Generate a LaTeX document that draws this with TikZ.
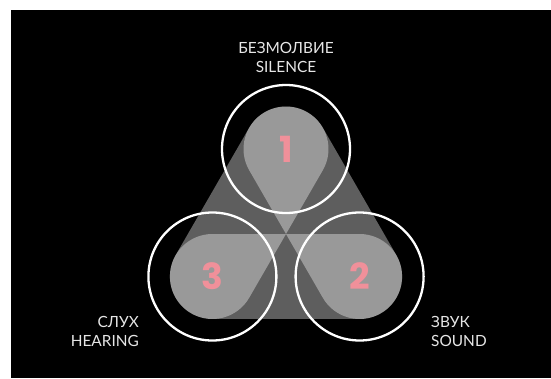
\documentclass[tikz,border=0pt]{standalone}
\usepackage{fontspec}
\setmainfont{Lato}
\newfontfamily\numfont{Poppins}
\usetikzlibrary{positioning,calc}
\definecolor{board}   {HTML}{000000}
\definecolor{margin}  {HTML}{FFFFFF}
\definecolor{labelink}{HTML}{E6E6E6}
\definecolor{numink}  {HTML}{F0909A}
\tikzset{
  band/.style={draw=white,draw opacity=0.37,line width=85pt,line cap=round},
  ring/.style={draw=white,line width=2.3pt},
  numlabel/.style={text=numink,font=\numfont\bfseries\fontsize{36}{36}\selectfont,inner sep=0pt},
  caption/.style={text=labelink,font=\fontsize{15.4}{19}\selectfont,inner sep=0pt}
}

\begin{document}
\begin{tikzpicture}[x=1pt,y=-1pt]
  \useasboundingbox (0,0) rectangle (551,378);
  \fill[margin] (0,0) rectangle (551,378);
  \fill[board] (11,10) rectangle (551,378);

  \coordinate (ctr) at (286,234);
  \coordinate (v1) at ($(ctr)+(0,-85)$);
  \coordinate (v2) at ($(ctr)+(73.6,42.5)$);
  \coordinate (v3) at ($(ctr)+(-73.6,42.5)$);

  \draw[band] (v1) -- (v3);
  \draw[band] (v3) -- (v2);
  \draw[band] (v2) -- (v1);

  \draw[ring] (v1) circle[radius=64pt];
  \draw[ring] (v2) circle[radius=64pt];
  \draw[ring] (v3) circle[radius=64pt];

  \node[numlabel] (n1) at (v1) {1};
  \node[numlabel] (n2) at (v2) {2};
  \node[numlabel] (n3) at (v3) {3};

  \node[caption,anchor=base] (silru) at (286,53) {БЕЗМОЛВИЕ};
  \node[caption,anchor=base] (silen) at (286,72) {SILENCE};
  \node[caption,anchor=base east] (hearru) at (139,327) {СЛУХ};
  \node[caption,anchor=base east] (hearen) at (139,346) {HEARING};
  \node[caption,anchor=base west] (soundru) at (431,327) {ЗВУК};
  \node[caption,anchor=base west] (sounden) at (431,346) {SOUND};
\end{tikzpicture}
\end{document}
